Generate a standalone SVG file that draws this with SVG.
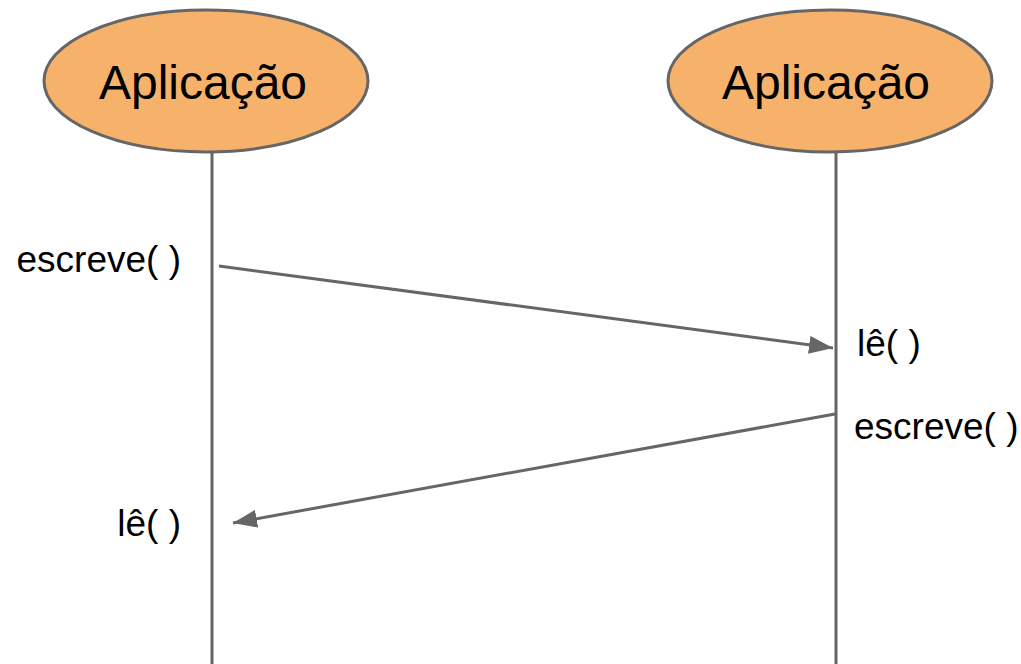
<svg xmlns="http://www.w3.org/2000/svg" width="1021" height="664" viewBox="0 0 1021 664">
<style>
.node{fill:#f6b26b;stroke:#666666;stroke-width:3}
.life{stroke:#666666;stroke-width:3;fill:none}
.msg{stroke:#666666;stroke-width:3;fill:none}
.t{font-family:"Liberation Sans",Arial,sans-serif;fill:#000}
.title{font-size:48px}
.lbl{font-size:37px}
</style>
<defs>
<marker id="ah" markerWidth="8" markerHeight="6" refX="8" refY="3" orient="auto" markerUnits="strokeWidth">
<path d="M0,0 L8,3 L0,6 Z" fill="#666666"/>
</marker>
</defs>
<rect width="1021" height="664" fill="#ffffff"/>
<g id="lifelines">
<line class="life" x1="212" y1="152" x2="212" y2="664"/>
<line class="life" x1="836" y1="152" x2="836" y2="664"/>
</g>
<g id="node-app1">
<ellipse class="node" cx="206" cy="81" rx="162" ry="71"/>
<text class="t title" x="203" y="99" text-anchor="middle">Aplicação</text>
</g>
<g id="node-app2">
<ellipse class="node" cx="830" cy="81" rx="162" ry="71"/>
<text class="t title" x="826" y="99" text-anchor="middle">Aplicação</text>
</g>
<g id="connectors">
<line class="msg" x1="219" y1="266" x2="833" y2="348" marker-end="url(#ah)"/>
<line class="msg" x1="835" y1="414" x2="233" y2="523" marker-end="url(#ah)"/>
</g>
<g id="labels">
<text class="t lbl" x="181" y="272" text-anchor="end">escreve( )</text>
<text class="t lbl" x="857" y="356">lê( )</text>
<text class="t lbl" x="854" y="439">escreve( )</text>
<text class="t lbl" x="181" y="536" text-anchor="end">lê( )</text>
</g>
</svg>
